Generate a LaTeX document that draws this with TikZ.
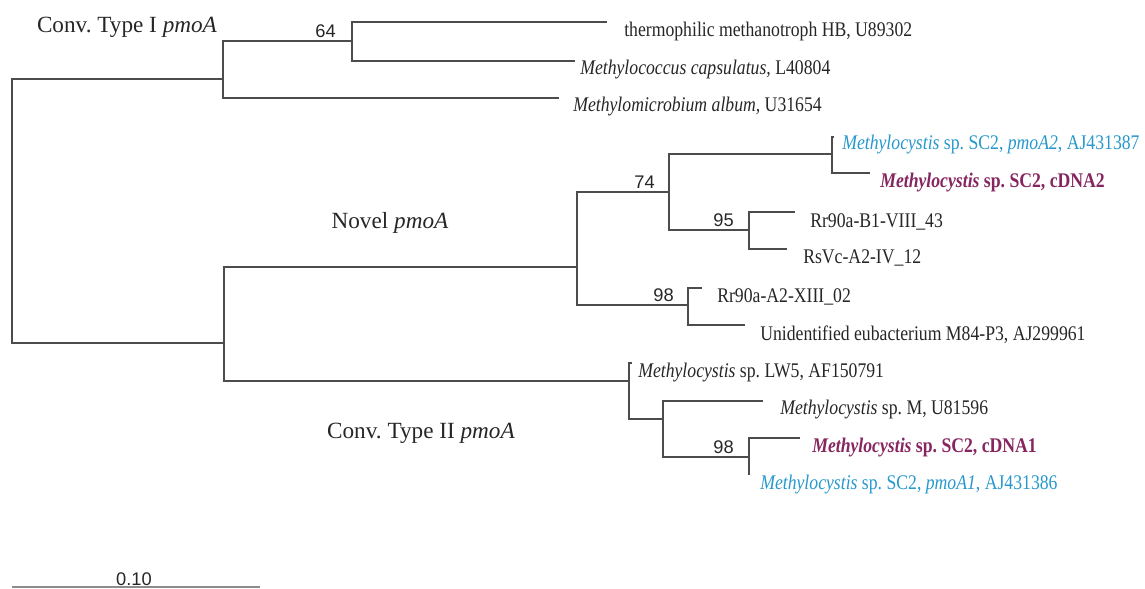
\documentclass[tikz,border=0pt]{standalone}
\usepackage{fontspec}
\setmainfont{Liberation Serif}
\setsansfont{Liberation Sans}
\newfontfamily\narrowserif{Liberation Serif}[FakeStretch=0.85]
\definecolor{scBlue}{RGB}{38,152,204}
\definecolor{scPurple}{RGB}{134,38,96}
\frenchspacing

\begin{document}
\begin{tikzpicture}[x=0.025cm,y=-0.025cm,
    branch/.style={draw=black!70,line width=0.9pt},
    leaf/.style={anchor=west,inner sep=0pt,text=black!85,font=\narrowserif\fontsize{14.8}{16}\selectfont},
    boot/.style={anchor=east,inner sep=0pt,text=black!85,font=\sffamily\fontsize{13}{15}\selectfont},
    clade/.style={inner sep=0pt,text=black!85,font=\fontsize{16.5}{19}\selectfont}
  ]
  \useasboundingbox (0,0) rectangle (1145,589);
  % inner nodes of the tree
  \coordinate (root) at (12,211);
  \coordinate (nA) at (223,79);
  \coordinate (nB) at (352,41);
  \coordinate (nC) at (224,343);
  \coordinate (nD) at (577,267);
  \coordinate (nE) at (669,192);
  \coordinate (nF) at (832,154);
  \coordinate (nG) at (749,230);
  \coordinate (nH) at (688,305);
  \coordinate (nI) at (629,381);
  \coordinate (nJ) at (663,419);
  \coordinate (nK) at (749,457);
  % tips
  \coordinate (tThermo) at (607,22);
  \coordinate (tCaps) at (575,61);
  \coordinate (tAlbum) at (559,98);
  \coordinate (tPmoAtwo) at (834,137);
  \coordinate (tCdnaTwo) at (870,173);
  \coordinate (tBone) at (795,212);
  \coordinate (tRsVc) at (787,249);
  \coordinate (tXiii) at (702,288);
  \coordinate (tUnid) at (745,325);
  \coordinate (tLwfive) at (632,363);
  \coordinate (tM) at (763,401);
  \coordinate (tCdnaOne) at (800,438);
  \coordinate (tPmoAone) at (749,475);

  \draw[branch] (root) |- (nA) (root) |- (nC);
  \draw[branch] (nA) |- (nB) (nA) |- (tAlbum);
  \draw[branch] (nB) |- (tThermo) (nB) |- (tCaps);
  \draw[branch] (nC) |- (nD) (nC) |- (nI);
  \draw[branch] (nD) |- (nE) (nD) |- (nH);
  \draw[branch] (nE) |- (nF) (nE) |- (nG);
  \draw[branch] (nF) |- (tPmoAtwo) (nF) |- (tCdnaTwo);
  \draw[branch] (nG) |- (tBone) (nG) |- (tRsVc);
  \draw[branch] (nH) |- (tXiii) (nH) |- (tUnid);
  \draw[branch] (nI) |- (tLwfive) (nI) |- (nJ);
  \draw[branch] (nJ) |- (tM) (nJ) |- (nK);
  \draw[branch] (nK) |- (tCdnaOne) (nK) |- (tPmoAone);

  % leaf labels
  \node[leaf] (lThermo) at (624,32) {thermophilic methanotroph HB, U89302};
  \node[leaf] (lCaps) at (580,70) {\textit{Methylococcus capsulatus,} L40804};
  \node[leaf] (lAlbum) at (573,107) {\textit{Methylomicrobium album,} U31654};
  \node[leaf,text=scBlue] (lPmoAtwo) at (842,145) {\textit{Methylocystis} sp. SC2, \textit{pmoA2}, AJ431387};
  \node[leaf,text=scPurple] (lCdnaTwo) at (880,183) {\textbf{\textit{Methylocystis} sp. SC2, cDNA2}};
  \node[leaf] (lBone) at (810,222) {Rr90a-B1-VIII\_43};
  \node[leaf] (lRsVc) at (803,258) {RsVc-A2-IV\_12};
  \node[leaf] (lXiii) at (717,297) {Rr90a-A2-XIII\_02};
  \node[leaf] (lUnid) at (760,335) {Unidentified eubacterium M84-P3, AJ299961};
  \node[leaf] (lLwfive) at (638,373) {\textit{Methylocystis} sp. LW5, AF150791};
  \node[leaf] (lM) at (780,410) {\textit{Methylocystis} sp. M, U81596};
  \node[leaf,text=scPurple] (lCdnaOne) at (812,448) {\textbf{\textit{Methylocystis} sp. SC2, cDNA1}};
  \node[leaf,text=scBlue] (lPmoAone) at (760,485) {\textit{Methylocystis} sp. SC2, \textit{pmoA1}, AJ431386};

  % clade names
  \node[clade] (cTypeI) at (127,27) {Conv. Type I \textit{pmoA}};
  \node[clade] (cNovel) at (390,223) {Novel \textit{pmoA}};
  \node[clade] (cTypeII) at (421,433) {Conv. Type II \textit{pmoA}};

  % bootstrap values
  \node[boot] (b64) at (336,31) {64};
  \node[boot] (b74) at (655,182) {74};
  \node[boot] (b95) at (734,220) {95};
  \node[boot] (b98a) at (674,295) {98};
  \node[boot] (b98b) at (734,447) {98};

  % scale bar
  \coordinate (sbL) at (12,587);
  \coordinate (sbR) at (260,587);
  \draw[branch,draw=black!45] (sbL) -- (sbR);
  \node[boot,anchor=south] (sbText) at (134,586) {0.10};
\end{tikzpicture}
\end{document}
